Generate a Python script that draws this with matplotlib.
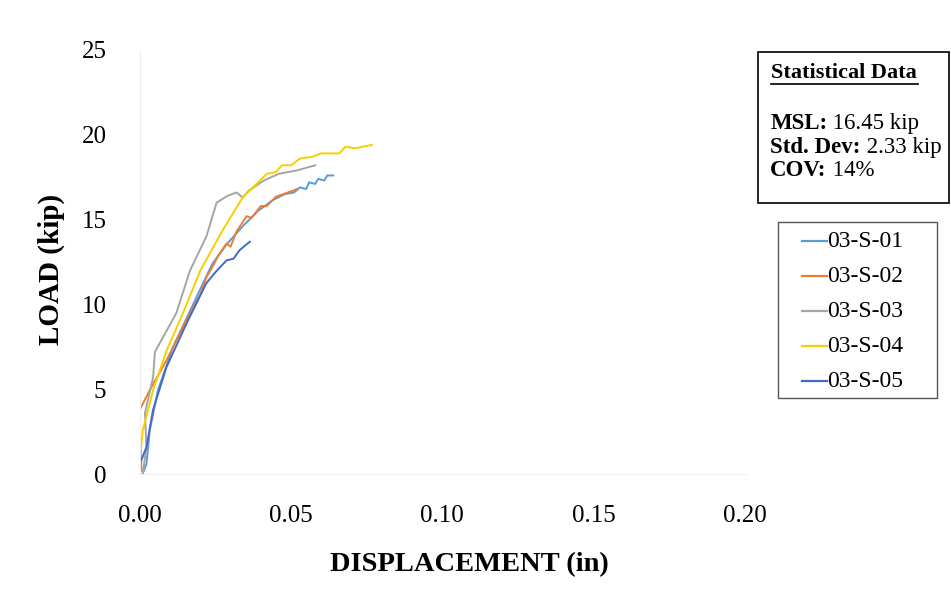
"""Load-displacement curves for 03-S specimens."""

import matplotlib
matplotlib.use("Agg")
import matplotlib.pyplot as plt
from matplotlib.lines import Line2D

plt.rcParams["font.family"] = ["Liberation Serif", "DejaVu Serif"]

series_names = ["03-S-01", "03-S-02", "03-S-03", "03-S-04", "03-S-05"]
series_colors = ["#5B9BD5", "#ED7D31", "#A5A5A5", "#F5D000", "#4468C8"]

disp_01 = [0.001, 0.0022, 0.0033, 0.006, 0.011, 0.0188, 0.024, 0.029, 0.034, 0.039,
           0.044, 0.048, 0.051, 0.053, 0.055, 0.056, 0.058, 0.059, 0.061, 0.062, 0.064]
load_01 = [0.05, 0.6, 2.6, 4.95, 7.5, 10.45, 12.4, 13.6, 14.6, 15.5,
           16.15, 16.5, 16.6, 16.9, 16.8, 17.2, 17.1, 17.4, 17.3, 17.6, 17.6]

disp_02 = [0.0006, 0.0, 0.0, 0.0033, 0.0088, 0.0155, 0.020, 0.022, 0.024, 0.026,
           0.0287, 0.030, 0.032, 0.0353, 0.037, 0.040, 0.042, 0.045, 0.049, 0.052]
load_02 = [0.2, 2.6, 3.8, 4.95, 6.7, 9.1, 10.6, 11.6, 12.2, 12.9,
           13.6, 13.4, 14.3, 15.2, 15.1, 15.8, 15.8, 16.35, 16.6, 16.8]

disp_03 = [0.001, 0.0022, 0.0017, 0.0044, 0.005, 0.0121, 0.0166, 0.022, 0.0254, 0.029,
           0.032, 0.034, 0.036, 0.041, 0.046, 0.052, 0.058]
load_03 = [0.05, 1.6, 3.6, 5.7, 7.2, 9.5, 12.0, 14.0, 16.0, 16.4,
           16.6, 16.3, 16.7, 17.3, 17.7, 17.9, 18.2]

disp_04 = [0.0, 0.001, 0.0044, 0.0089, 0.0143, 0.020, 0.0275, 0.034, 0.042, 0.045,
           0.047, 0.050, 0.053, 0.057, 0.060, 0.066, 0.068, 0.071, 0.0767]
load_04 = [0.8, 2.6, 4.95, 7.3, 9.5, 12.0, 14.4, 16.3, 17.7, 17.8,
           18.2, 18.2, 18.6, 18.7, 18.9, 18.9, 19.3, 19.2, 19.4]

disp_05 = [0.0, 0.0022, 0.0044, 0.0088, 0.0155, 0.022, 0.025, 0.0287, 0.031, 0.033,
           0.0364]
load_05 = [0.6, 1.6, 3.8, 6.3, 8.9, 11.25, 11.9, 12.6, 12.7, 13.2, 13.7]

x_ticks = [0.00, 0.05, 0.10, 0.15, 0.20]
y_ticks = [0, 5, 10, 15, 20, 25]

stats_labels = ["MSL:", "Std. Dev:", "COV:"]
stats_values = [" 16.45 kip", " 2.33 kip", " 14%"]

fig = plt.figure(figsize=(9.51, 6.01), dpi=100)
ax = fig.add_axes([0.147, 0.211, 0.636, 0.706])

curves = [(disp_01, load_01), (disp_02, load_02), (disp_03, load_03),
          (disp_04, load_04), (disp_05, load_05)]
for (xs, ys), name, color in zip(curves, series_names, series_colors):
    ax.plot(xs, ys, color=color, lw=1.4, label=name)

ax.set_xlim(0, 0.20)
ax.set_ylim(0, 25)
ax.set_xticks(x_ticks, [f"{v:.2f}" for v in x_ticks])
ax.set_yticks(y_ticks, [str(v) for v in y_ticks])
ax.tick_params(axis="both", length=0, labelsize=18)
ax.tick_params(axis="x", pad=22)
ax.tick_params(axis="y", pad=24)
for side in ("top", "right"):
    ax.spines[side].set_visible(False)
for side in ("left", "bottom"):
    ax.spines[side].set_color("#EEEEEE")

fig.text(0.494, 0.060, "DISPLACEMENT (in)", ha="center", va="center",
         fontsize=20.5, fontweight="bold")
fig.text(0.054, 0.552, "LOAD (kip)", ha="center", va="center",
         rotation=90, fontsize=21, fontweight="bold")

# statistics box
fig.add_artist(plt.Rectangle((0.797, 0.662), 0.201, 0.251, transform=fig.transFigure,
                             fill=False, edgecolor="black", lw=1.2))
fig.text(0.811, 0.8785, "Statistical Data", fontsize=16, fontweight="bold",
         va="center")
fig.add_artist(Line2D([0.811, 0.965], [0.860, 0.860], transform=fig.transFigure,
                      color="black", lw=1.2))
fig.canvas.draw()
for i, (label, value) in enumerate(zip(stats_labels, stats_values)):
    y = 0.7937 - i * 0.0383
    t = fig.text(0.810, y, label, fontsize=16.5, fontweight="bold", va="center")
    bb = t.get_window_extent(fig.canvas.get_renderer()).transformed(
        fig.transFigure.inverted())
    fig.text(bb.x1, y, value, fontsize=16.5, va="center")

# legend box, drawn by hand to match the spacing
fig.add_artist(plt.Rectangle((0.818, 0.338), 0.167, 0.293, transform=fig.transFigure,
                             fill=False, edgecolor="#555555", lw=1.0))
for i, (name, color) in enumerate(zip(series_names, series_colors)):
    y = 0.599 - i * 0.0583
    fig.add_artist(Line2D([0.843, 0.870], [y, y], transform=fig.transFigure,
                          color=color, lw=1.6))
    fig.text(0.870, y, name, fontsize=17, va="center")

fig.savefig("out.png", dpi=100)
